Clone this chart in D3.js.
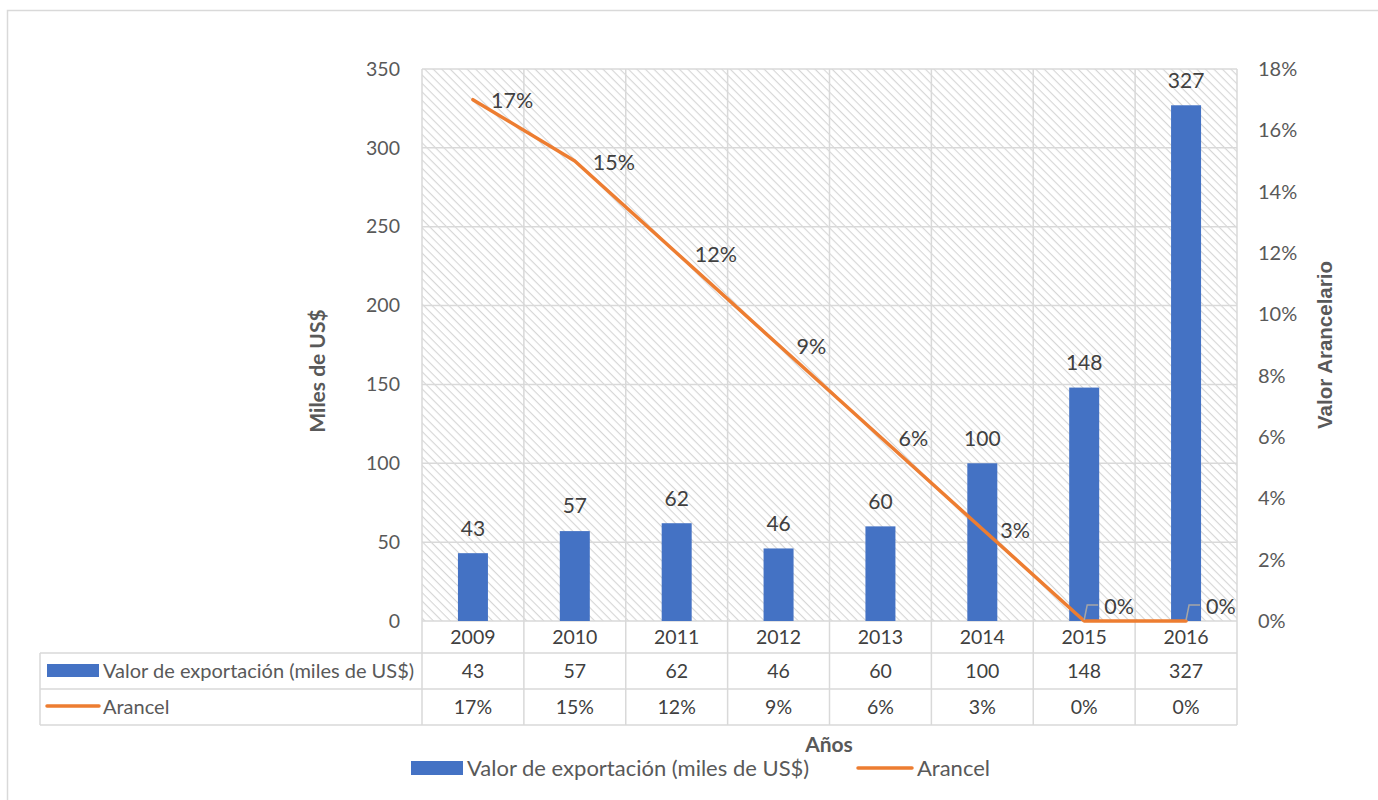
<!DOCTYPE html>
<html><head><meta charset="utf-8">
<script src="https://cdn.jsdelivr.net/npm/d3@7"></script>
<style>body{margin:0;background:#fff}svg{display:block}</style>
</head><body>
<svg id="c" width="1378" height="800"></svg>
<script>
const years = ["2009","2010","2011","2012","2013","2014","2015","2016"];
const exportValues = [43,57,62,46,60,100,148,327];
const tariff = [0.17,0.15,0.12,0.09,0.06,0.03,0,0];
const leftTicks = [0,50,100,150,200,250,300,350];
const rightTicks = [0,0.02,0.04,0.06,0.08,0.10,0.12,0.14,0.16,0.18];
const seriesNames = ["Valor de exportación (miles de US$)","Arancel"];

const FONT = "Lato, 'Open Sans', sans-serif";
const svg = d3.select("#c");
const m = {l:422, r:1237, t:69, b:621};
const x = d3.scaleBand().domain(years).range([m.l,m.r]);
const yL = d3.scaleLinear().domain([0,350]).range([m.b,m.t]);
const yR = d3.scaleLinear().domain([0,0.18]).range([m.b,m.t]);

const defs = svg.append("defs");
const pat = defs.append("pattern").attr("id","hatch").attr("patternUnits","userSpaceOnUse")
  .attr("width",6).attr("height",6).attr("patternTransform","rotate(45)");
pat.append("rect").attr("width",6).attr("height",6).attr("fill","#fff");
pat.append("line").attr("x1",0).attr("y1",0).attr("x2",6).attr("y2",0).attr("stroke","#d6d6d6").attr("stroke-width",2.2);

svg.append("rect").attr("x",7.5).attr("y",10.5).attr("width",1380).attr("height",800)
  .attr("fill","#fff").attr("stroke","#d9d9d9").attr("stroke-width",1.5);

svg.append("rect").attr("x",m.l).attr("y",m.t).attr("width",m.r-m.l).attr("height",m.b-m.t).attr("fill","url(#hatch)");

const grid = svg.append("g").attr("stroke","#d9d9d9").attr("stroke-width",1.5);
leftTicks.forEach(t=>grid.append("line").attr("x1",m.l).attr("x2",m.r).attr("y1",yL(t)).attr("y2",yL(t)));
const bounds = years.map(y=>x(y)).concat([m.r]);
bounds.forEach(b=>grid.append("line").attr("x1",b).attr("x2",b).attr("y1",m.t).attr("y2",725));
const tL = 40;
[653,689,725].forEach(yy=>grid.append("line").attr("x1",tL).attr("x2",m.r).attr("y1",yy).attr("y2",yy));
grid.append("line").attr("x1",tL).attr("x2",tL).attr("y1",653).attr("y2",725);

const axL = svg.append("g").attr("transform",`translate(${m.l-22},0)`)
  .call(d3.axisLeft(yL).tickValues(leftTicks).tickSize(0).tickPadding(0));
axL.select(".domain").remove();
axL.selectAll("text").attr("font-family",FONT).attr("font-size",19.5).attr("fill","#595959");

const axR = svg.append("g").attr("transform",`translate(${m.r+21},0)`)
  .call(d3.axisRight(yR).tickValues(rightTicks).tickFormat(d3.format(".0%")).tickSize(0).tickPadding(0));
axR.select(".domain").remove();
axR.selectAll("text").attr("font-family",FONT).attr("font-size",20).attr("fill","#595959");

const bw = 30;
svg.append("g").selectAll("rect").data(exportValues).join("rect")
  .attr("x",(d,i)=>x(years[i])+x.bandwidth()/2-bw/2).attr("width",bw)
  .attr("y",d=>yL(d)).attr("height",d=>m.b-yL(d)).attr("fill","#4472C4");

svg.append("g").selectAll("text").data(exportValues).join("text")
  .attr("x",(d,i)=>x(years[i])+x.bandwidth()/2).attr("y",d=>yL(d)-25).attr("dy","0.35em")
  .attr("text-anchor","middle").attr("font-family",FONT).attr("font-size",21).attr("fill","#404040")
  .text(d=>d);

const cx = (i)=>x(years[i])+x.bandwidth()/2;
const line = d3.line().x((d,i)=>cx(i)).y(d=>yR(d));
svg.append("path").datum(tariff).attr("d",line).attr("fill","none")
  .attr("stroke","#ED7D31").attr("stroke-width",3.5).attr("stroke-linejoin","round").attr("stroke-linecap","round");

const lbl = svg.append("g");
tariff.forEach((d,i)=>{
  const px = cx(i), py = yR(d);
  if(d===0){
    lbl.append("path").attr("d",`M${px},${py-1} L${px+3},${py-16} L${px+14},${py-16}`)
      .attr("fill","none").attr("stroke","#a6a6a6").attr("stroke-width",1.5);
    lbl.append("text").attr("x",px+20).attr("y",py-15).attr("dy","0.35em")
      .attr("font-family",FONT).attr("font-size",21.5).attr("fill","#404040").text(d3.format(".0%")(d));
  } else {
    lbl.append("text").attr("x",px+18).attr("y",py+1).attr("dy","0.35em")
      .attr("font-family",FONT).attr("font-size",21.5).attr("fill","#404040").text(d3.format(".0%")(d));
  }
});

const tt = svg.append("g").attr("font-family",FONT).attr("font-size",19.5).attr("fill","#404040").attr("text-anchor","middle");
years.forEach((yv,i)=>{
  tt.append("text").attr("x",cx(i)).attr("y",637).attr("dy","0.35em").text(yv);
  tt.append("text").attr("x",cx(i)).attr("y",671).attr("dy","0.35em").text(exportValues[i]);
  tt.append("text").attr("x",cx(i)).attr("y",707).attr("dy","0.35em").text(d3.format(".0%")(tariff[i]));
});
svg.append("rect").attr("x",47).attr("y",664).attr("width",52).attr("height",13).attr("fill","#4472C4");
svg.append("line").attr("x1",47).attr("x2",99).attr("y1",706).attr("y2",706).attr("stroke","#ED7D31").attr("stroke-width",3.5).attr("stroke-linecap","round");
svg.append("text").attr("x",103).attr("y",671).attr("dy","0.35em").attr("font-family",FONT).attr("font-size",20).attr("fill","#595959").text(seriesNames[0]);
svg.append("text").attr("x",103).attr("y",707).attr("dy","0.35em").attr("font-family",FONT).attr("font-size",20).attr("fill","#595959").text(seriesNames[1]);

svg.append("text").attr("transform","translate(318,371) rotate(-90)").attr("text-anchor","middle").attr("dy","0.35em")
  .attr("font-family",FONT).attr("font-size",21).attr("font-weight","bold").attr("fill","#595959").text("Miles de US$");
svg.append("text").attr("transform","translate(1325,345) rotate(-90)").attr("text-anchor","middle").attr("dy","0.35em")
  .attr("font-family","'Liberation Sans', Arial, sans-serif").attr("font-size",20.5).attr("font-weight","bold").attr("fill","#595959").text("Valor Arancelario");
svg.append("text").attr("x",829).attr("y",745).attr("text-anchor","middle").attr("dy","0.35em")
  .attr("font-family",FONT).attr("font-size",21).attr("font-weight","bold").attr("fill","#595959").text("Años");

const lg = svg.append("g").attr("font-family",FONT).attr("font-size",22).attr("fill","#595959");
lg.append("rect").attr("x",411).attr("y",761).attr("width",52).attr("height",14).attr("fill","#4472C4");
lg.append("text").attr("x",467).attr("y",768).attr("dy","0.35em").text(seriesNames[0]);
lg.append("line").attr("x1",858).attr("x2",912).attr("y1",768).attr("y2",768).attr("stroke","#ED7D31").attr("stroke-width",3.5).attr("stroke-linecap","round");
lg.append("text").attr("x",917).attr("y",768).attr("dy","0.35em").text(seriesNames[1]);
</script>
</body></html>
